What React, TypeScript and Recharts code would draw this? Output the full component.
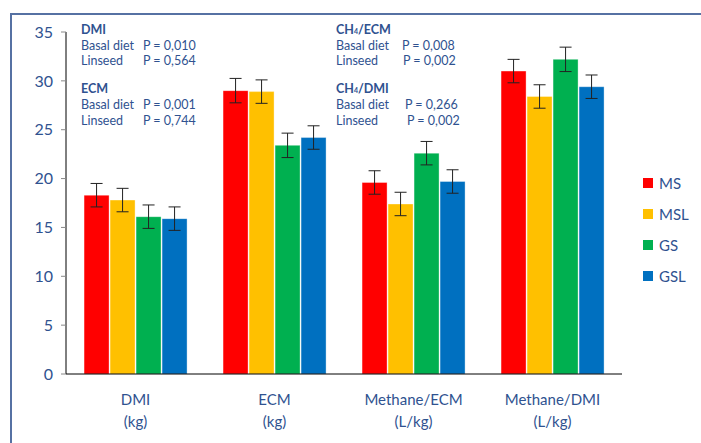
import { BarChart, Bar, XAxis, YAxis, ErrorBar } from "recharts";

const categories = ["DMI", "ECM", "Methane/ECM", "Methane/DMI"];
const units = ["(kg)", "(kg)", "(L/kg)", "(L/kg)"];

const ms = [18.3, 29.0, 19.6, 31.0];
const msl = [17.8, 28.9, 17.4, 28.4];
const gs = [16.1, 23.4, 22.6, 32.2];
const gsl = [15.9, 24.2, 19.7, 29.4];

const msErr = [1.2, 1.25, 1.2, 1.2];
const mslErr = [1.2, 1.2, 1.2, 1.2];
const gsErr = [1.2, 1.25, 1.2, 1.25];
const gslErr = [1.2, 1.2, 1.2, 1.2];

const yTicks = [0, 5, 10, 15, 20, 25, 30, 35];

const seriesNames = ["MS", "MSL", "GS", "GSL"];
const colors = ["#FF0000", "#FFC000", "#00B050", "#0070C0"];

const TEXT = "#2F5290";
const FONT = "Lato, 'Noto Sans', sans-serif";

const data = categories.map((name, i) => ({
  name,
  unit: units[i],
  MS: ms[i],
  MSL: msl[i],
  GS: gs[i],
  GSL: gsl[i],
  MSe: msErr[i],
  MSLe: mslErr[i],
  GSe: gsErr[i],
  GSLe: gslErr[i],
}));

function CatTick(props: any) {
  const { x, y, payload, index } = props;
  return (
    <g transform={`translate(${x},${y})`}>
      <text textAnchor="middle" fill={TEXT} fontSize={15} fontFamily={FONT}>
        <tspan x={0} dy={23}>{payload.value}</tspan>
        <tspan x={0} dy={22}>{units[index]}</tspan>
      </text>
    </g>
  );
}

function LegendBox() {
  return (
    <div style={{ position: "absolute", left: 643, top: 167, fontFamily: FONT }}>
      {seriesNames.map((s, i) => (
        <div key={s} style={{ display: "flex", alignItems: "center", height: 31 }}>
          <span style={{ width: 10, height: 10, background: colors[i], marginRight: 6 }} />
          <span style={{ color: TEXT, fontSize: 15 }}>{s}</span>
        </div>
      ))}
    </div>
  );
}

const note = { position: "absolute" as const, fontFamily: FONT, fontSize: 12.5, color: TEXT, lineHeight: "15.7px", whiteSpace: "nowrap" as const };
const sub = { fontSize: 7, lineHeight: "7px", display: "inline-block", verticalAlign: "baseline" };

export default function App() {
  return (
    <div style={{ position: "absolute", left: 0, top: 0, width: 701, height: 443, overflow: "hidden", background: "#fff" }}>
      <div style={{ position: "absolute", left: 10, top: 13, width: 720, height: 460, borderTop: "2px solid #5671A3", borderLeft: "2px solid #5671A3" }} />
      <BarChart
        width={701}
        height={443}
        data={data}
        margin={{ top: 32, right: 79, bottom: 9, left: 10 }}
        barCategoryGap="13%"
        barGap={1}
        style={{ position: "absolute", left: 0, top: 0 }}
      >
        <YAxis
          domain={[0, 35]}
          ticks={yTicks}
          width={56}
          axisLine={{ stroke: "#000" }}
          tickLine={{ stroke: "#888" }}
          tickSize={5}
          tickMargin={8}
          tick={{ fill: TEXT, fontSize: 16, fontFamily: FONT }}
        />
        <XAxis dataKey="name" height={60} axisLine={{ stroke: "#000" }} tickLine={false} tick={<CatTick />} interval={0} />
        {seriesNames.map((s, i) => (
          <Bar key={s} dataKey={s} fill={colors[i]} stroke="#ffffff" strokeOpacity={0.35} isAnimationActive={false}>
            <ErrorBar dataKey={s + "e"} width={6} stroke="#222" strokeWidth={1} />
          </Bar>
        ))}
      </BarChart>
      <LegendBox />

      <div style={{ ...note, left: 81, top: 22 }}>
        <b>DMI</b>
        <div>Basal diet<span style={{ position: "absolute", left: 62 }}>P = 0,010</span></div>
        <div>Linseed<span style={{ position: "absolute", left: 62 }}>P = 0,564</span></div>
        <div style={{ height: 12 }} />
        <b>ECM</b>
        <div>Basal diet<span style={{ position: "absolute", left: 62 }}>P = 0,001</span></div>
        <div>Linseed<span style={{ position: "absolute", left: 62 }}>P = 0,744</span></div>
      </div>

      <div style={{ ...note, left: 336, top: 22 }}>
        <b>CH<span style={sub}>4</span>/ECM</b>
        <div>Basal diet<span style={{ position: "absolute", left: 66 }}>P = 0,008</span></div>
        <div>Linseed<span style={{ position: "absolute", left: 67 }}>P = 0,002</span></div>
        <div style={{ height: 12 }} />
        <b>CH<span style={sub}>4</span>/DMI</b>
        <div>Basal diet<span style={{ position: "absolute", left: 69 }}>P = 0,266</span></div>
        <div>Linseed<span style={{ position: "absolute", left: 71 }}>P = 0,002</span></div>
      </div>
    </div>
  );
}
